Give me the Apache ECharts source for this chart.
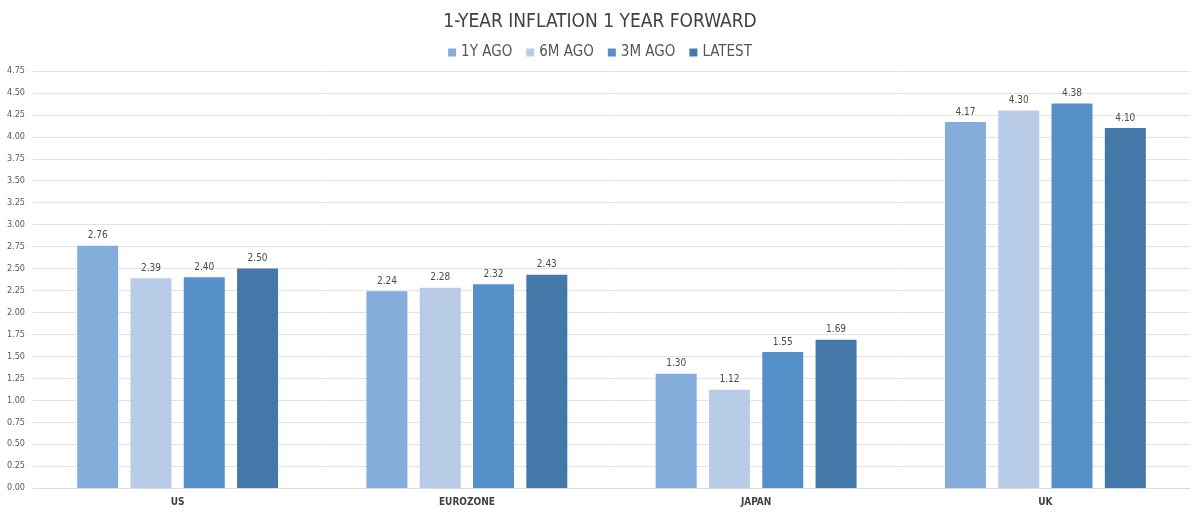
<!DOCTYPE html>
<html>
<head>
<meta charset="utf-8">
<script src="https://cdn.jsdelivr.net/npm/echarts@6/dist/echarts.min.js"></script>
<style>
  html, body { margin: 0; padding: 0; background: #fff; }
  #chart { width: 1200px; height: 514px; }
</style>
</head>
<body>
<div id="chart"></div>
<script>
const categories = ["US", "EUROZONE", "JAPAN", "UK"];
const oneYearAgo = [2.76, 2.24, 1.30, 4.17];
const sixMonthsAgo = [2.39, 2.28, 1.12, 4.30];
const threeMonthsAgo = [2.40, 2.32, 1.55, 4.38];
const latest = [2.50, 2.43, 1.69, 4.10];

const font = "'Liberation Sans Narrow', 'DejaVu Sans Condensed', sans-serif";

const chart = echarts.init(document.getElementById("chart"));

function bar(name, data, color) {
  return {
    name: name,
    type: "bar",
    data: data,
    barWidth: 41,
    itemStyle: { color: color },
    label: {
      show: true,
      position: "top",
      distance: 5,
      formatter: (p) => p.value.toFixed(2),
      color: "#4a4a4a",
      fontSize: 10,
      fontFamily: font
    }
  };
}

chart.setOption({
  animation: false,
  title: {
    text: "1-YEAR INFLATION 1 YEAR FORWARD",
    left: "center",
    top: 8,
    textStyle: { fontFamily: font, fontSize: 19, fontWeight: "normal", color: "#404040" }
  },
  legend: {
    top: 40,
    left: "center",
    itemWidth: 8,
    itemHeight: 8,
    itemGap: 14,
    icon: "rect",
    textStyle: { fontFamily: font, fontSize: 15, color: "#555555" },
    data: ["1Y AGO", "6M AGO", "3M AGO", "LATEST"]
  },
  grid: { left: 33, right: 10, top: 71, bottom: 26 },
  xAxis: {
    type: "category",
    data: categories,
    axisTick: { show: false },
    axisLine: { lineStyle: { color: "#d9d9d9" } },
    axisLabel: { fontFamily: font, fontSize: 10, fontWeight: "bold", color: "#404040", margin: 9 }
  },
  yAxis: {
    type: "value",
    min: 0,
    max: 4.75,
    interval: 0.25,
    axisLine: { show: false },
    axisTick: { show: false },
    splitLine: { lineStyle: { color: "#e3e3e3" } },
    axisLabel: {
      fontFamily: font,
      fontSize: 9,
      color: "#595959",
      margin: 8,
      formatter: (v) => v.toFixed(2)
    }
  },
  series: [
    Object.assign(bar("1Y AGO", oneYearAgo, "#85addb"), { barGap: "30%" }),
    bar("6M AGO", sixMonthsAgo, "#b8cce8"),
    bar("3M AGO", threeMonthsAgo, "#5591c8"),
    bar("LATEST", latest, "#4478a8")
  ]
});

window.addEventListener("resize", () => chart.resize());
</script>
</body>
</html>
